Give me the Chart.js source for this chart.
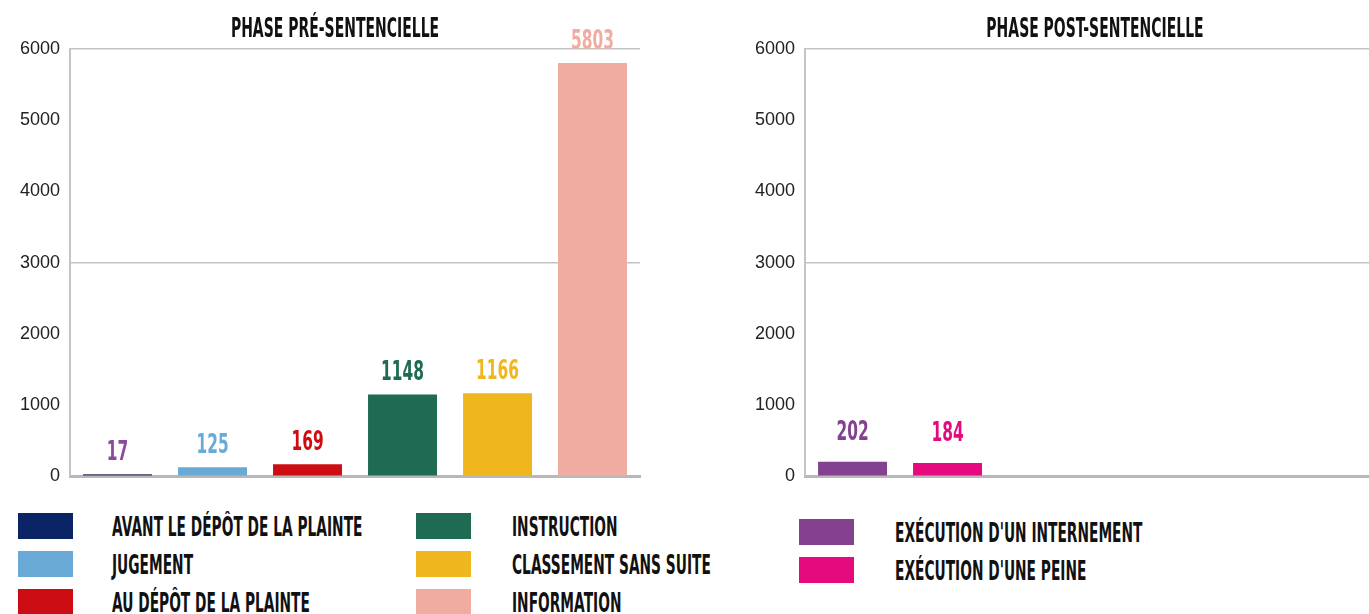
<!DOCTYPE html>
<html>
<head>
<meta charset="utf-8">
<script src="https://cdn.jsdelivr.net/npm/chart.js@4/dist/chart.umd.min.js"></script>
<style>
  body { margin: 0; width: 1369px; height: 614px; overflow: hidden; background: #fff; position: relative; }
  canvas { position: absolute; top: 0; }
  #preChart { left: 0; }
  #postChart { left: 730px; }
  .sw { position: absolute; width: 55px; height: 26px; }
  .lbl { position: absolute; height: 26px; line-height: 26px; white-space: nowrap; color: #111;
         font-family: 'DejaVu Sans', sans-serif; font-weight: bold; font-size: 27px;
         transform: scaleX(0.51); transform-origin: left center; }
</style>
</head>
<body>
<canvas id="preChart" width="670" height="497"></canvas>
<canvas id="postChart" width="730" height="497"></canvas>
<div id="legends"></div>
<script>
// pre-sentencing phase
const preTitle = 'PHASE PRÉ-SENTENCIELLE';
const preCategories = ['AVANT LE DÉPÔT DE LA PLAINTE', 'JUGEMENT', 'AU DÉPÔT DE LA PLAINTE', 'INSTRUCTION', 'CLASSEMENT SANS SUITE', 'INFORMATION'];
const preValues = [17, 125, 169, 1148, 1166, 5803];
const preColors = ['#3b2a5e', '#68aad5', '#cc0d13', '#1e6a52', '#f0b61d', '#f1aca2'];
const preLegendColors = ['#0b2466', '#68aad5', '#cc0d13', '#1e6a52', '#f0b61d', '#f1aca2'];
const preLabelColors = ['#8b4a9c', '#6aaad6', '#cc0d13', '#1e6a52', '#f0b61d', '#f1aca2'];

// post-sentencing phase
const postTitle = 'PHASE POST-SENTENCIELLE';
const postCategories = ["EXÉCUTION D'UN INTERNEMENT", "EXÉCUTION D'UNE PEINE", '', '', '', ''];
const postValues = [202, 184, null, null, null, null];
const postColors = ['#84418f', '#e50b7f', '#999', '#999', '#999', '#999'];
const postLabelColors = ['#84418f', '#e50b7f', '#999', '#999', '#999', '#999'];

const yTicks = [0, 1000, 2000, 3000, 4000, 5000, 6000];

const heavy = "'DejaVu Sans', sans-serif";

// condensed bold text, squeezed horizontally
function squeezeText(ctx, text, x, y, sx) {
    ctx.save();
    ctx.translate(x, y);
    ctx.scale(sx, 1);
    ctx.fillText(text, 0, 0);
    ctx.restore();
}

// value above each bar + chart title
const decorations = {
    id: 'decorations',
    afterDatasetsDraw(chart, args, opts) {
        const ctx = chart.ctx;
        const meta = chart.getDatasetMeta(0);
        ctx.save();
        ctx.textAlign = 'center';
        ctx.textBaseline = 'alphabetic';
        ctx.font = 'bold 27px ' + heavy;
        meta.data.forEach((bar, i) => {
            const v = chart.data.datasets[0].data[i];
            if (v === null) return;
            ctx.fillStyle = opts.colors[i];
            squeezeText(ctx, String(v), bar.x, bar.y - opts.gap, 0.57);
        });
        ctx.fillStyle = '#111';
        squeezeText(ctx, opts.title, chart.width / 2, 37, 0.518);
        ctx.restore();
    }
};

function makeChart(id, title, cats, values, colors, labelColors, padLeft, padRight, gap) {
    return new Chart(document.getElementById(id), {
        type: 'bar',
        data: {
            labels: cats,
            datasets: [{
                data: values,
                backgroundColor: colors,
                barPercentage: 0.726,
                categoryPercentage: 1,
                minBarLength: 2
            }]
        },
        options: {
            responsive: false,
            animation: false,
            layout: { padding: { left: padLeft, right: padRight, bottom: 5, top: 49 } },
            plugins: {
                legend: { display: false },
                tooltip: { enabled: false },
                title: { display: false },
                decorations: { colors: labelColors, title: title, gap: gap }
            },
            scales: {
                x: {
                    grid: { display: false },
                    border: { color: '#b8b8b8', width: 3 },
                    ticks: { display: false }
                },
                y: {
                    min: yTicks[0],
                    max: yTicks[yTicks.length - 1],
                    afterBuildTicks: axis => { axis.ticks = yTicks.map(v => ({ value: v })); },
                    grid: {
                        drawTicks: false,
                        color: c => (c.tick && c.tick.value % 3000 === 0) ? '#c4c4c4' : 'rgba(0,0,0,0)',
                        lineWidth: 1.5
                    },
                    border: { color: '#c4c4c4', width: 2 },
                    ticks: {
                        padding: 10,
                        color: '#222',
                        font: { family: "'Liberation Sans', Arial, sans-serif", size: 18 },
                        callback: v => String(v)
                    }
                }
            }
        },
        plugins: [decorations]
    });
}

makeChart('preChart', preTitle, preCategories, preValues, preColors, preLabelColors, 10, 30, 14);
makeChart('postChart', postTitle, postCategories, postValues, postColors, postLabelColors, 15, 85, 22);

// legends
const legendBox = document.getElementById('legends');
function addItem(name, color, swX, txtX, y) {
    const sw = document.createElement('div');
    sw.className = 'sw';
    sw.style.left = swX + 'px';
    sw.style.top = y + 'px';
    sw.style.background = color;
    legendBox.appendChild(sw);
    const t = document.createElement('div');
    t.className = 'lbl';
    t.style.left = txtX + 'px';
    t.style.top = (y + 1) + 'px';
    t.textContent = name;
    legendBox.appendChild(t);
}
preCategories.forEach((name, i) => {
    const col = Math.floor(i / 3);
    const row = i % 3;
    addItem(name, preLegendColors[i], col ? 416 : 18, col ? 512 : 112, 513 + row * 38);
});
postCategories.slice(0, 2).forEach((name, i) => {
    addItem(name, postColors[i], 799, 895, 519 + i * 38);
});
</script>
</body>
</html>
